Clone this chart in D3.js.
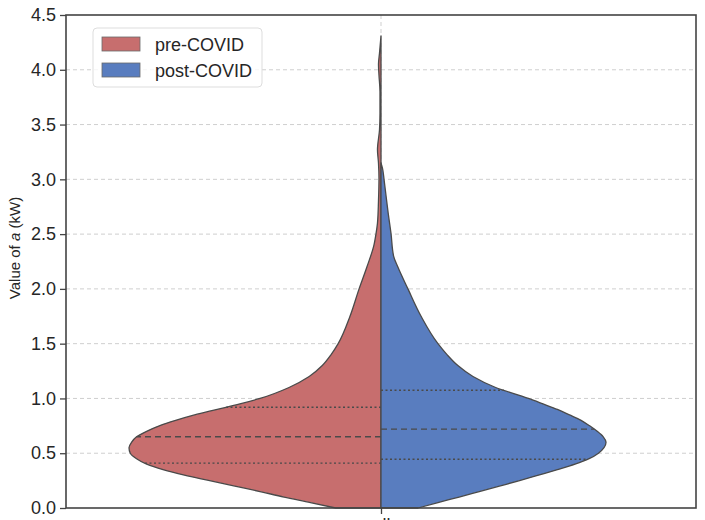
<html>
<head>
<script src="https://d3js.org/d3.v7.min.js"></script>
<style>
  body { margin: 0; background: #fff; }
  text { font-family: "Liberation Sans", Arial, sans-serif; }
</style>
</head>
<body>
<svg></svg>
<script>
// ---- data ----
const categories = ["all"];
const seriesNames = ["pre-COVID", "post-COVID"];
const seriesColors = ["#c76e6e", "#597dbf"];
const yTicks = [0, 0.5, 1, 1.5, 2, 2.5, 3, 3.5, 4, 4.5];

// kernel density outline (value of a, relative density)
const preValues  = [0, 0.05, 0.1, 0.15, 0.2, 0.25, 0.3, 0.35, 0.4, 0.45, 0.5, 0.55, 0.6, 0.65, 0.7, 0.75, 0.8, 0.85, 0.9, 0.95, 1.0, 1.1, 1.2, 1.3, 1.4, 1.5, 1.75, 2.0, 2.2, 2.4, 2.5, 2.6, 2.8, 3.0, 3.15, 3.27, 3.45, 3.6, 3.8, 3.95, 4.05, 4.15, 4.31];
const preDensity = [0.18, 0.28, 0.385, 0.48, 0.58, 0.68, 0.78, 0.865, 0.93, 0.97, 0.995, 1.0, 0.99, 0.97, 0.93, 0.88, 0.815, 0.74, 0.65, 0.56, 0.48, 0.365, 0.285, 0.233, 0.198, 0.17, 0.123, 0.087, 0.056, 0.028, 0.02, 0.014, 0.01, 0.008, 0.01, 0.014, 0.006, 0.004, 0.004, 0.008, 0.01, 0.006, 0];
const postValues  = [0, 0.05, 0.1, 0.15, 0.2, 0.25, 0.3, 0.35, 0.4, 0.45, 0.5, 0.55, 0.6, 0.65, 0.7, 0.75, 0.8, 0.85, 0.9, 0.95, 1.0, 1.1, 1.2, 1.3, 1.4, 1.5, 1.75, 2.0, 2.2, 2.3, 2.5, 2.7, 2.85, 3.0, 3.1, 3.15];
const postDensity = [0.147, 0.226, 0.31, 0.39, 0.47, 0.55, 0.625, 0.70, 0.77, 0.826, 0.863, 0.885, 0.893, 0.882, 0.858, 0.828, 0.794, 0.748, 0.70, 0.643, 0.585, 0.455, 0.365, 0.305, 0.262, 0.226, 0.159, 0.107, 0.067, 0.05, 0.04, 0.028, 0.02, 0.012, 0.006, 0];

const preQuartiles  = [0.41, 0.65, 0.92];
const postQuartiles = [0.445, 0.72, 1.075];

// ---- layout ----
const W = 705, H = 520;
const mLeft = 66, mRight = 696, mTop = 15, mBottom = 508;

const svg = d3.select("svg").attr("width", W).attr("height", H);

const y = d3.scaleLinear().domain([0, 4.5]).range([mBottom, mTop]);
const xCat = d3.scalePoint().domain(categories).range([mLeft, mRight]).padding(0.5);
const dens = d3.scaleLinear().domain([-1.25, 1.25]).range([mLeft, mRight]);
const cx = xCat(categories[0]);

// grid
svg.append("g").selectAll("line").data(yTicks.slice(1, -1)).enter().append("line")
  .attr("x1", mLeft).attr("x2", mRight)
  .attr("y1", d => y(d)).attr("y2", d => y(d))
  .attr("stroke", "#cfcfcf").attr("stroke-width", 1).attr("stroke-dasharray", "4,3");
svg.append("line")
  .attr("x1", cx).attr("x2", cx).attr("y1", mTop).attr("y2", mBottom)
  .attr("stroke", "#cfcfcf").attr("stroke-width", 1).attr("stroke-dasharray", "4,3");

// violins
function halfViolin(values, density, side, color, quartiles) {
  const pts = values.map((v, i) => ({ v: v, d: density[i] }));
  const area = d3.area()
    .y(p => y(p.v))
    .x0(cx)
    .x1(p => dens(side * p.d))
    .curve(d3.curveMonotoneY);
  svg.append("path")
    .datum(pts)
    .attr("d", area)
    .attr("fill", color)
    .attr("stroke", "#4a4a4a")
    .attr("stroke-width", 1.3)
    .attr("stroke-linejoin", "round");

  const interp = v => {
    const i = d3.bisector(p => p.v).left(pts, v);
    const a = pts[i - 1], b = pts[i];
    return a.d + (b.d - a.d) * (v - a.v) / (b.v - a.v);
  };
  quartiles.forEach((q, k) => {
    svg.append("line")
      .attr("x1", cx).attr("x2", dens(side * interp(q)))
      .attr("y1", y(q)).attr("y2", y(q))
      .attr("stroke", "#4a4a4a").attr("stroke-width", 1.4)
      .attr("stroke-dasharray", k === 1 ? "6,4" : "2,2.5");
  });
}
halfViolin(preValues, preDensity, -1, seriesColors[0], preQuartiles);
halfViolin(postValues, postDensity, 1, seriesColors[1], postQuartiles);

// axes
const yAxis = svg.append("g").attr("transform", "translate(" + mLeft + ",0)")
  .call(d3.axisLeft(y).tickValues(yTicks).tickFormat(d3.format(".1f")).tickSize(6).tickPadding(4));
const xAxis = svg.append("g").attr("transform", "translate(0," + mBottom + ")")
  .call(d3.axisBottom(xCat).tickSize(6).tickPadding(4));
[yAxis, xAxis].forEach(g => {
  g.select(".domain").remove();
  g.selectAll("line").attr("stroke", "#444").attr("stroke-width", 1.3);
  g.selectAll("text").attr("fill", "#262626").style("font-size", "18px");
});

// frame
svg.append("rect")
  .attr("x", mLeft).attr("y", mTop).attr("width", mRight - mLeft).attr("height", mBottom - mTop)
  .attr("fill", "none").attr("stroke", "#444").attr("stroke-width", 1.6);

// y label
const yl = svg.append("text")
  .attr("transform", "translate(20," + 248 + ") rotate(-90)")
  .attr("text-anchor", "middle")
  .attr("fill", "#262626")
  .style("font-size", "15px");
yl.append("tspan").text("Value of ");
yl.append("tspan").style("font-style", "italic").text("a");
yl.append("tspan").text(" (kW)");

// legend
const lg = svg.append("g");
lg.append("rect").attr("x", 93).attr("y", 28).attr("width", 169).attr("height", 59)
  .attr("rx", 4).attr("fill", "#fff").attr("fill-opacity", 0.8)
  .attr("stroke", "#dddddd").attr("stroke-width", 1);
seriesNames.forEach((name, i) => {
  lg.append("rect").attr("x", 102).attr("y", 37 + i * 26).attr("width", 38).attr("height", 14)
    .attr("fill", seriesColors[i]).attr("stroke", "#6a6a6a").attr("stroke-width", 0.8);
  lg.append("text").attr("x", 155).attr("y", 50.5 + i * 26)
    .attr("fill", "#262626").style("font-size", "18px").text(name);
});
</script>
</body>
</html>
